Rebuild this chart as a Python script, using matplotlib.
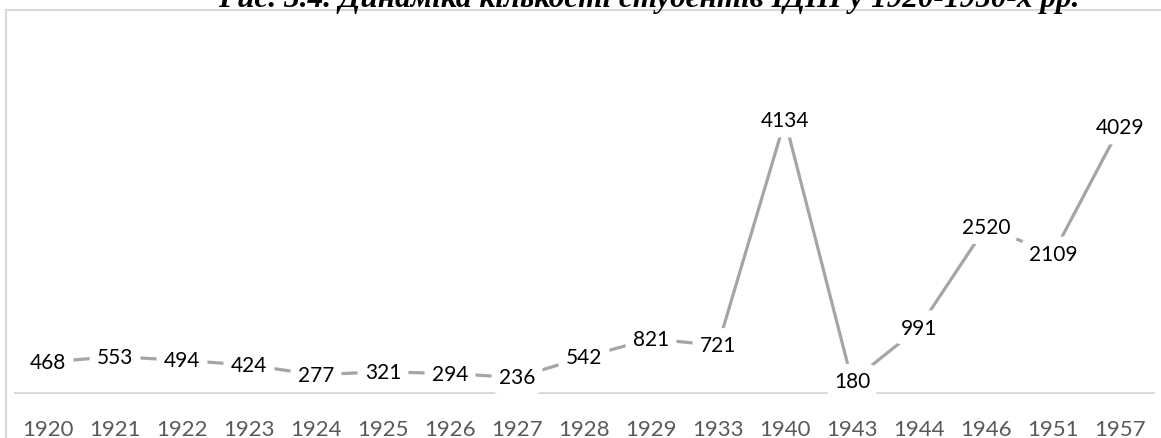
import matplotlib
matplotlib.use("Agg")
import matplotlib.pyplot as plt
from matplotlib.patches import Rectangle

# data
years = ['1920', '1921', '1922', '1923', '1924', '1925', '1926', '1927', '1928',
         '1929', '1933', '1940', '1943', '1944', '1946', '1951', '1957']
students = [468, 553, 494, 424, 277, 321, 294, 236, 542,
            821, 721, 4134, 180, 991, 2520, 2109, 4029]
title = 'Рис. 3.4. Динаміка кількості студентів ІДПІ у 1920-1950-х рр.'

W, H = 1161, 439
fig = plt.figure(figsize=(W / 100, H / 100), dpi=100)

# chart area border (Excel style)
fig.patches.append(Rectangle((6 / W, -0.1), 1.2, (H - 11) / H + 0.1,
                             transform=fig.transFigure, fill=False,
                             edgecolor='#D9D9D9', linewidth=1.5))

ax = fig.add_axes([14.5 / W, (H - 394) / H, (1153.5 - 14.5) / W, 297 / H])
x = list(range(len(years)))
ax.plot(x, students, color='#A5A5A5', linewidth=2.3, solid_capstyle='butt', zorder=2)

for xi, v in zip(x, students):
    ax.text(xi, v, str(v), ha='center', va='center', fontsize=15,
            family='Lato', color='black', zorder=5, clip_on=False,
            bbox=dict(boxstyle='round,pad=0.35,rounding_size=0.5',
                      facecolor='white', edgecolor='none'))

ax.set_xlim(-0.5, len(years) - 0.5)
ax.set_ylim(0, 4500)
ax.set_xticks(x)
ax.set_xticklabels(years, family='Lato', fontsize=16, color='#595959')
ax.tick_params(axis='x', length=0, pad=19)
ax.set_yticks([])
for s in ['top', 'left', 'right']:
    ax.spines[s].set_visible(False)
ax.spines['bottom'].set_color('#D9D9D9')
ax.spines['bottom'].set_linewidth(1.5)
ax.spines['bottom'].set_zorder(1)

# title is cut by the top edge, as in the reference
fig.text(1080 / W, (H - 7) / H, title, ha='right', va='baseline',
         family='Liberation Serif', fontweight='bold', style='italic', fontsize=22.5)

fig.savefig('out.png', dpi=100)
